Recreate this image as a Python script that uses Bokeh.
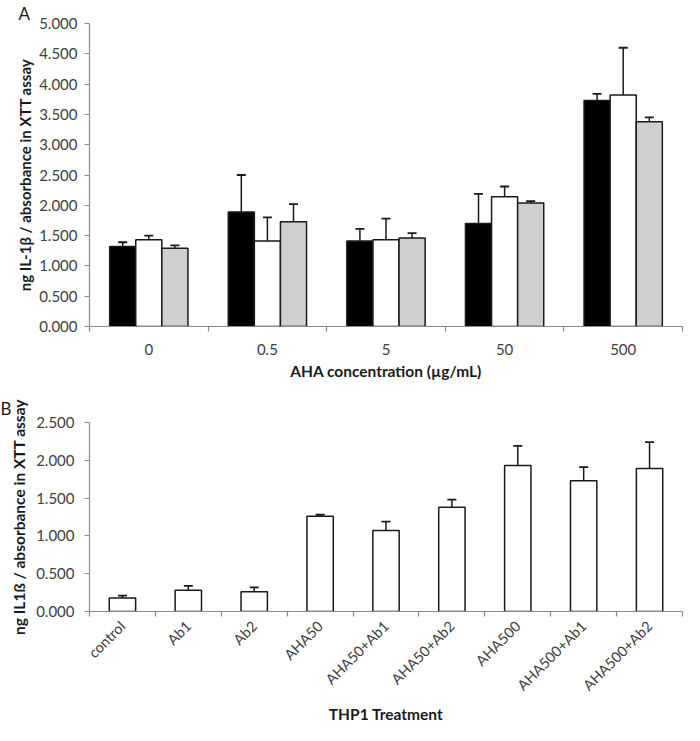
import math
import numpy as np
from bokeh.plotting import figure
from bokeh.layouts import column
from bokeh.models import (ColumnDataSource, Range1d, FixedTicker, Whisker, TeeHead,
                          NumeralTickFormatter)
from bokeh.embed import file_html
from bokeh.resources import INLINE

# ---------------- data ----------------
conc_labels = ["0", "0.5", "5", "50", "500"]
series1_vals = [1.32, 1.89, 1.41, 1.70, 3.73]   # black
series1_err = [0.07, 0.61, 0.20, 0.49, 0.11]
series2_vals = [1.43, 1.41, 1.43, 2.14, 3.82]   # white
series2_err = [0.07, 0.39, 0.35, 0.17, 0.78]
series3_vals = [1.29, 1.73, 1.46, 2.04, 3.38]   # grey
series3_err = [0.05, 0.29, 0.08, 0.03, 0.07]

treat_labels = ["control", "Ab1", "Ab2", "AHA50", "AHA50+Ab1", "AHA50+Ab2",
                "AHA500", "AHA500+Ab1", "AHA500+Ab2"]
treat_vals = [0.18, 0.28, 0.26, 1.26, 1.07, 1.38, 1.93, 1.73, 1.89]
treat_err = [0.03, 0.06, 0.06, 0.02, 0.12, 0.10, 0.26, 0.18, 0.35]

yticks_a = [0, 0.5, 1, 1.5, 2, 2.5, 3, 3.5, 4, 4.5, 5]
yticks_b = [0, 0.5, 1, 1.5, 2, 2.5]

FONT = "Lato"
AXIS_COL = "#8a8a8a"
LABEL_COL = "#404040"
TITLE_COL = "#1a1a1a"


def style_axes(p):
    p.xgrid.visible = False
    p.ygrid.visible = False
    p.outline_line_color = None
    for ax in (p.xaxis[0], p.yaxis[0]):
        ax.axis_line_color = AXIS_COL
        ax.axis_line_width = 1.2
        ax.major_tick_line_color = AXIS_COL
        ax.major_tick_line_width = 1.2
        ax.minor_tick_line_color = AXIS_COL
        ax.minor_tick_line_width = 1.2
        ax.major_label_text_font = FONT
        ax.major_label_text_font_size = "15px"
        ax.major_label_text_color = LABEL_COL
        ax.axis_label_text_font = FONT
        ax.axis_label_text_font_style = "bold"
        ax.axis_label_text_font_size = "15.5px"
        ax.axis_label_text_color = TITLE_COL
    p.yaxis[0].major_tick_out = 5
    p.yaxis[0].major_tick_in = 0
    p.yaxis[0].minor_tick_out = 0
    p.yaxis[0].minor_tick_in = 0
    p.yaxis[0].formatter = NumeralTickFormatter(format="0.000")
    p.xaxis[0].major_tick_line_color = None
    p.xaxis[0].major_tick_out = 0
    p.xaxis[0].major_tick_in = 0
    p.xaxis[0].minor_tick_out = 5
    p.xaxis[0].minor_tick_in = 0


def style_title(p, text, offset, standoff):
    p.title.text = text
    p.title.align = "left"
    p.title.offset = offset
    p.title.standoff = standoff
    p.title.text_font = FONT
    p.title.text_font_style = "normal"
    p.title.text_font_size = "17px"
    p.title.text_color = TITLE_COL


# ---------------- panel A ----------------
nA = len(conc_labels)
centersA = np.arange(nA) + 0.5
pA = figure(width=684, height=382, output_backend="svg", toolbar_location=None,
            x_range=Range1d(0, nA), y_range=Range1d(0, 5),
            min_border_left=71, min_border_right=2, min_border_top=0, min_border_bottom=55)
style_title(pA, "A", -71, 0)

bw = 0.22
series = [(series1_vals, series1_err, -bw, "#000000"),
          (series2_vals, series2_err, 0.0, "#ffffff"),
          (series3_vals, series3_err, bw, "#cfcfcf")]
for vals, errs, off, col in series:
    src = ColumnDataSource(dict(x=centersA + off, top=vals,
                                upper=np.array(vals) + np.array(errs)))
    pA.vbar(x="x", top="top", bottom=0, width=bw, source=src,
            fill_color=col, line_color="#1a1a1a", line_width=1.5)
    pA.add_layout(Whisker(source=src, base="x", lower="top", upper="upper",
                          line_color="#1a1a1a", line_width=1.5,
                          upper_head=TeeHead(size=9, line_color="#1a1a1a", line_width=1.8),
                          lower_head=None))

pA.xaxis[0].ticker = FixedTicker(ticks=list(centersA), minor_ticks=list(range(nA + 1)))
pA.xaxis[0].major_label_overrides = {float(c): l for c, l in zip(centersA, conc_labels)}
pA.yaxis[0].ticker = FixedTicker(ticks=yticks_a)
pA.xaxis[0].axis_label = "AHA concentration (µg/mL)"
pA.yaxis[0].axis_label = "ng IL-1β / absorbance in XTT assay"
style_axes(pA)
pA.xaxis[0].major_label_standoff = 12
pA.xaxis[0].axis_label_standoff = 4
pA.yaxis[0].major_label_standoff = 7
pA.yaxis[0].axis_label_standoff = 2
pA.yaxis[0].axis_label_text_font_size = "15px"

# ---------------- panel B ----------------
nB = len(treat_labels)
centersB = np.arange(nB) + 0.5
pB = figure(width=684, height=343, output_backend="svg", toolbar_location=None,
            x_range=Range1d(0, nB), y_range=Range1d(0, 2.5),
            min_border_left=89, min_border_right=1, min_border_top=40, min_border_bottom=100)
style_title(pB, "B", -89, 8)
srcB = ColumnDataSource(dict(x=centersB, top=treat_vals,
                             upper=np.array(treat_vals) + np.array(treat_err)))
pB.vbar(x="x", top="top", bottom=0, width=0.4, source=srcB,
        fill_color="#ffffff", line_color="#1a1a1a", line_width=1.5)
pB.add_layout(Whisker(source=srcB, base="x", lower="top", upper="upper",
                      line_color="#1a1a1a", line_width=1.5,
                      upper_head=TeeHead(size=9, line_color="#1a1a1a", line_width=1.8),
                      lower_head=None))
pB.xaxis[0].ticker = FixedTicker(ticks=list(centersB), minor_ticks=list(range(nB + 1)))
pB.xaxis[0].major_label_overrides = {float(c): l for c, l in zip(centersB, treat_labels)}
pB.xaxis[0].major_label_orientation = math.pi / 4
pB.yaxis[0].ticker = FixedTicker(ticks=yticks_b)
pB.xaxis[0].axis_label = "THP1 Treatment"
pB.yaxis[0].axis_label = "ng IL1ß / absorbance in XTT assay"
style_axes(pB)
pB.xaxis[0].major_label_text_font_size = "14.5px"
pB.xaxis[0].major_label_standoff = 7
pB.xaxis[0].axis_label_standoff = 2
pB.yaxis[0].major_label_standoff = 10
pB.yaxis[0].axis_label_standoff = 5

layout = column(pA, pB)
open("out.html", "w").write(file_html(layout, INLINE))
